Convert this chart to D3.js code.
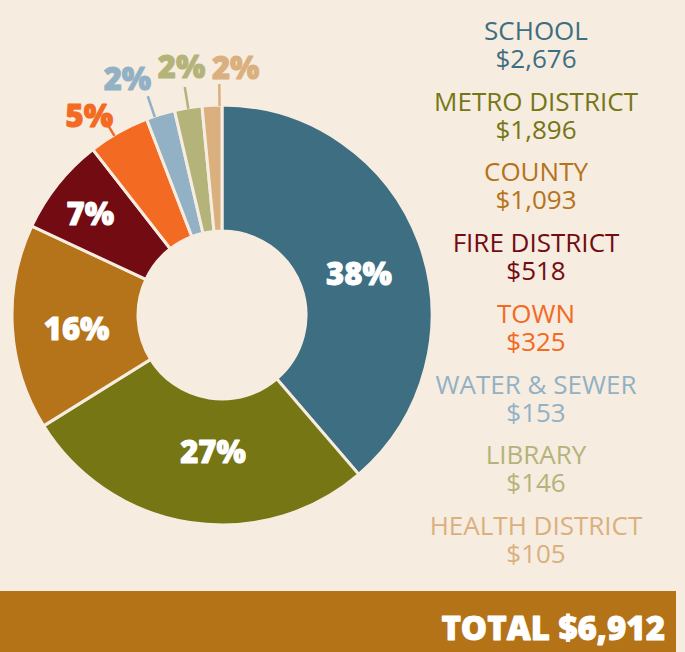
<!DOCTYPE html>
<html>
<head>
<meta charset="utf-8">
<script src="https://cdn.jsdelivr.net/npm/d3@7"></script>
<style>
  html, body { margin: 0; padding: 0; background: #f7ece0; }
  svg { display: block; }
</style>
</head>
<body>
<svg id="chart" width="685" height="652"></svg>
<script>
"use strict";

// data
const categories = ["SCHOOL", "METRO DISTRICT", "COUNTY", "FIRE DISTRICT", "TOWN", "WATER & SEWER", "LIBRARY", "HEALTH DISTRICT"];
const amounts = [2676, 1896, 1093, 518, 325, 153, 146, 105];
const percentLabels = ["38%", "27%", "16%", "7%", "5%", "2%", "2%", "2%"];
const totalLabel = "TOTAL $6,912";

const colors = ["#3e6e82", "#767615", "#b5731a", "#720b12", "#f36a22", "#92b1c4", "#b4b37a", "#dab07e"];

// label placement: angle nudge (deg), radius, outside?
const labelLayout = [
  {da: 3.6, r: 143, out: false},
  {da: -5, r: 137, out: false},
  {da: -2, r: 146, out: false},
  {da: -1, r: 166, out: false},
  {da: -4.2, r: 239, out: true},
  {da: -4.8, r: 254, out: true},
  {da: 0, r: 251, out: true},
  {da: 5.9, r: 248, out: true}
];

const bg = "#f7ece0";
const svg = d3.select("#chart");
const W = 685, H = 652;
const fontFam = "'Open Sans', 'Noto Sans', sans-serif";

svg.append("rect").attr("width", W).attr("height", H).attr("fill", bg);

const cx = 222, cy = 315, outerR = 210, innerR = 84;
const g = svg.append("g").attr("transform", `translate(${cx},${cy})`);

const pie = d3.pie().sort(null).value(d => d)(amounts);
const arc = d3.arc().innerRadius(innerR).outerRadius(outerR);

g.selectAll("path.slice")
  .data(pie)
  .join("path")
    .attr("class", "slice")
    .attr("d", arc)
    .attr("fill", (d, i) => colors[i])
    .attr("stroke", bg)
    .attr("stroke-width", 3);

const rad = deg => deg * Math.PI / 180;
const polar = (a, r) => [r * Math.sin(a), -r * Math.cos(a)];

// leader lines for the small slices
pie.forEach((d, i) => {
  const L = labelLayout[i];
  if (!L.out) return;
  const mid = (d.startAngle + d.endAngle) / 2;
  const a = mid + rad(L.da) * 0.35;
  const p0 = polar(a, outerR - 1), p1 = polar(a, outerR + 21);
  g.append("line")
    .attr("x1", p0[0]).attr("y1", p0[1])
    .attr("x2", p1[0]).attr("y2", p1[1])
    .attr("stroke", colors[i])
    .attr("stroke-width", 2.5);
});

// percentage labels (thin stroke thickens the weight)
g.selectAll("text.pct")
  .data(pie)
  .join("text")
    .attr("class", "pct")
    .attr("transform", (d, i) => {
      const L = labelLayout[i];
      const a = (d.startAngle + d.endAngle) / 2 + rad(L.da);
      const p = polar(a, L.r);
      return `translate(${p[0]},${p[1]})`;
    })
    .attr("text-anchor", "middle")
    .attr("dy", "0.36em")
    .attr("font-family", fontFam)
    .attr("font-weight", 800)
    .attr("font-size", 31)
    .attr("fill", (d, i) => labelLayout[i].out ? colors[i] : "#ffffff")
    .attr("stroke", (d, i) => labelLayout[i].out ? colors[i] : "#ffffff")
    .attr("stroke-width", 0.9)
    .attr("stroke-linejoin", "round")
    .text((d, i) => percentLabels[i]);

// legend: one text per item, name and amount as two lines
const fmt = d3.format("$,");
const legend = svg.append("g").attr("transform", "translate(536,40)");
const step = 70.7;
categories.forEach((name, i) => {
  const t = legend.append("text")
    .attr("y", i * step)
    .attr("text-anchor", "middle")
    .attr("font-family", fontFam)
    .attr("font-size", 26)
    .attr("fill", colors[i]);
  t.append("tspan").attr("x", 0).text(name);
  t.append("tspan").attr("x", 0).attr("dy", 28).text(fmt(amounts[i]));
});

// total banner
svg.append("rect")
  .attr("x", 0).attr("y", 591)
  .attr("width", 676).attr("height", H - 591)
  .attr("fill", "#b57318");
svg.append("text")
  .attr("x", 665).attr("y", 640)
  .attr("text-anchor", "end")
  .attr("font-family", fontFam)
  .attr("font-weight", 800)
  .attr("font-size", 33)
  .attr("fill", "#ffffff")
  .attr("stroke", "#ffffff")
  .attr("stroke-width", 0.9)
  .attr("stroke-linejoin", "round")
  .text(totalLabel);
</script>
</body>
</html>
